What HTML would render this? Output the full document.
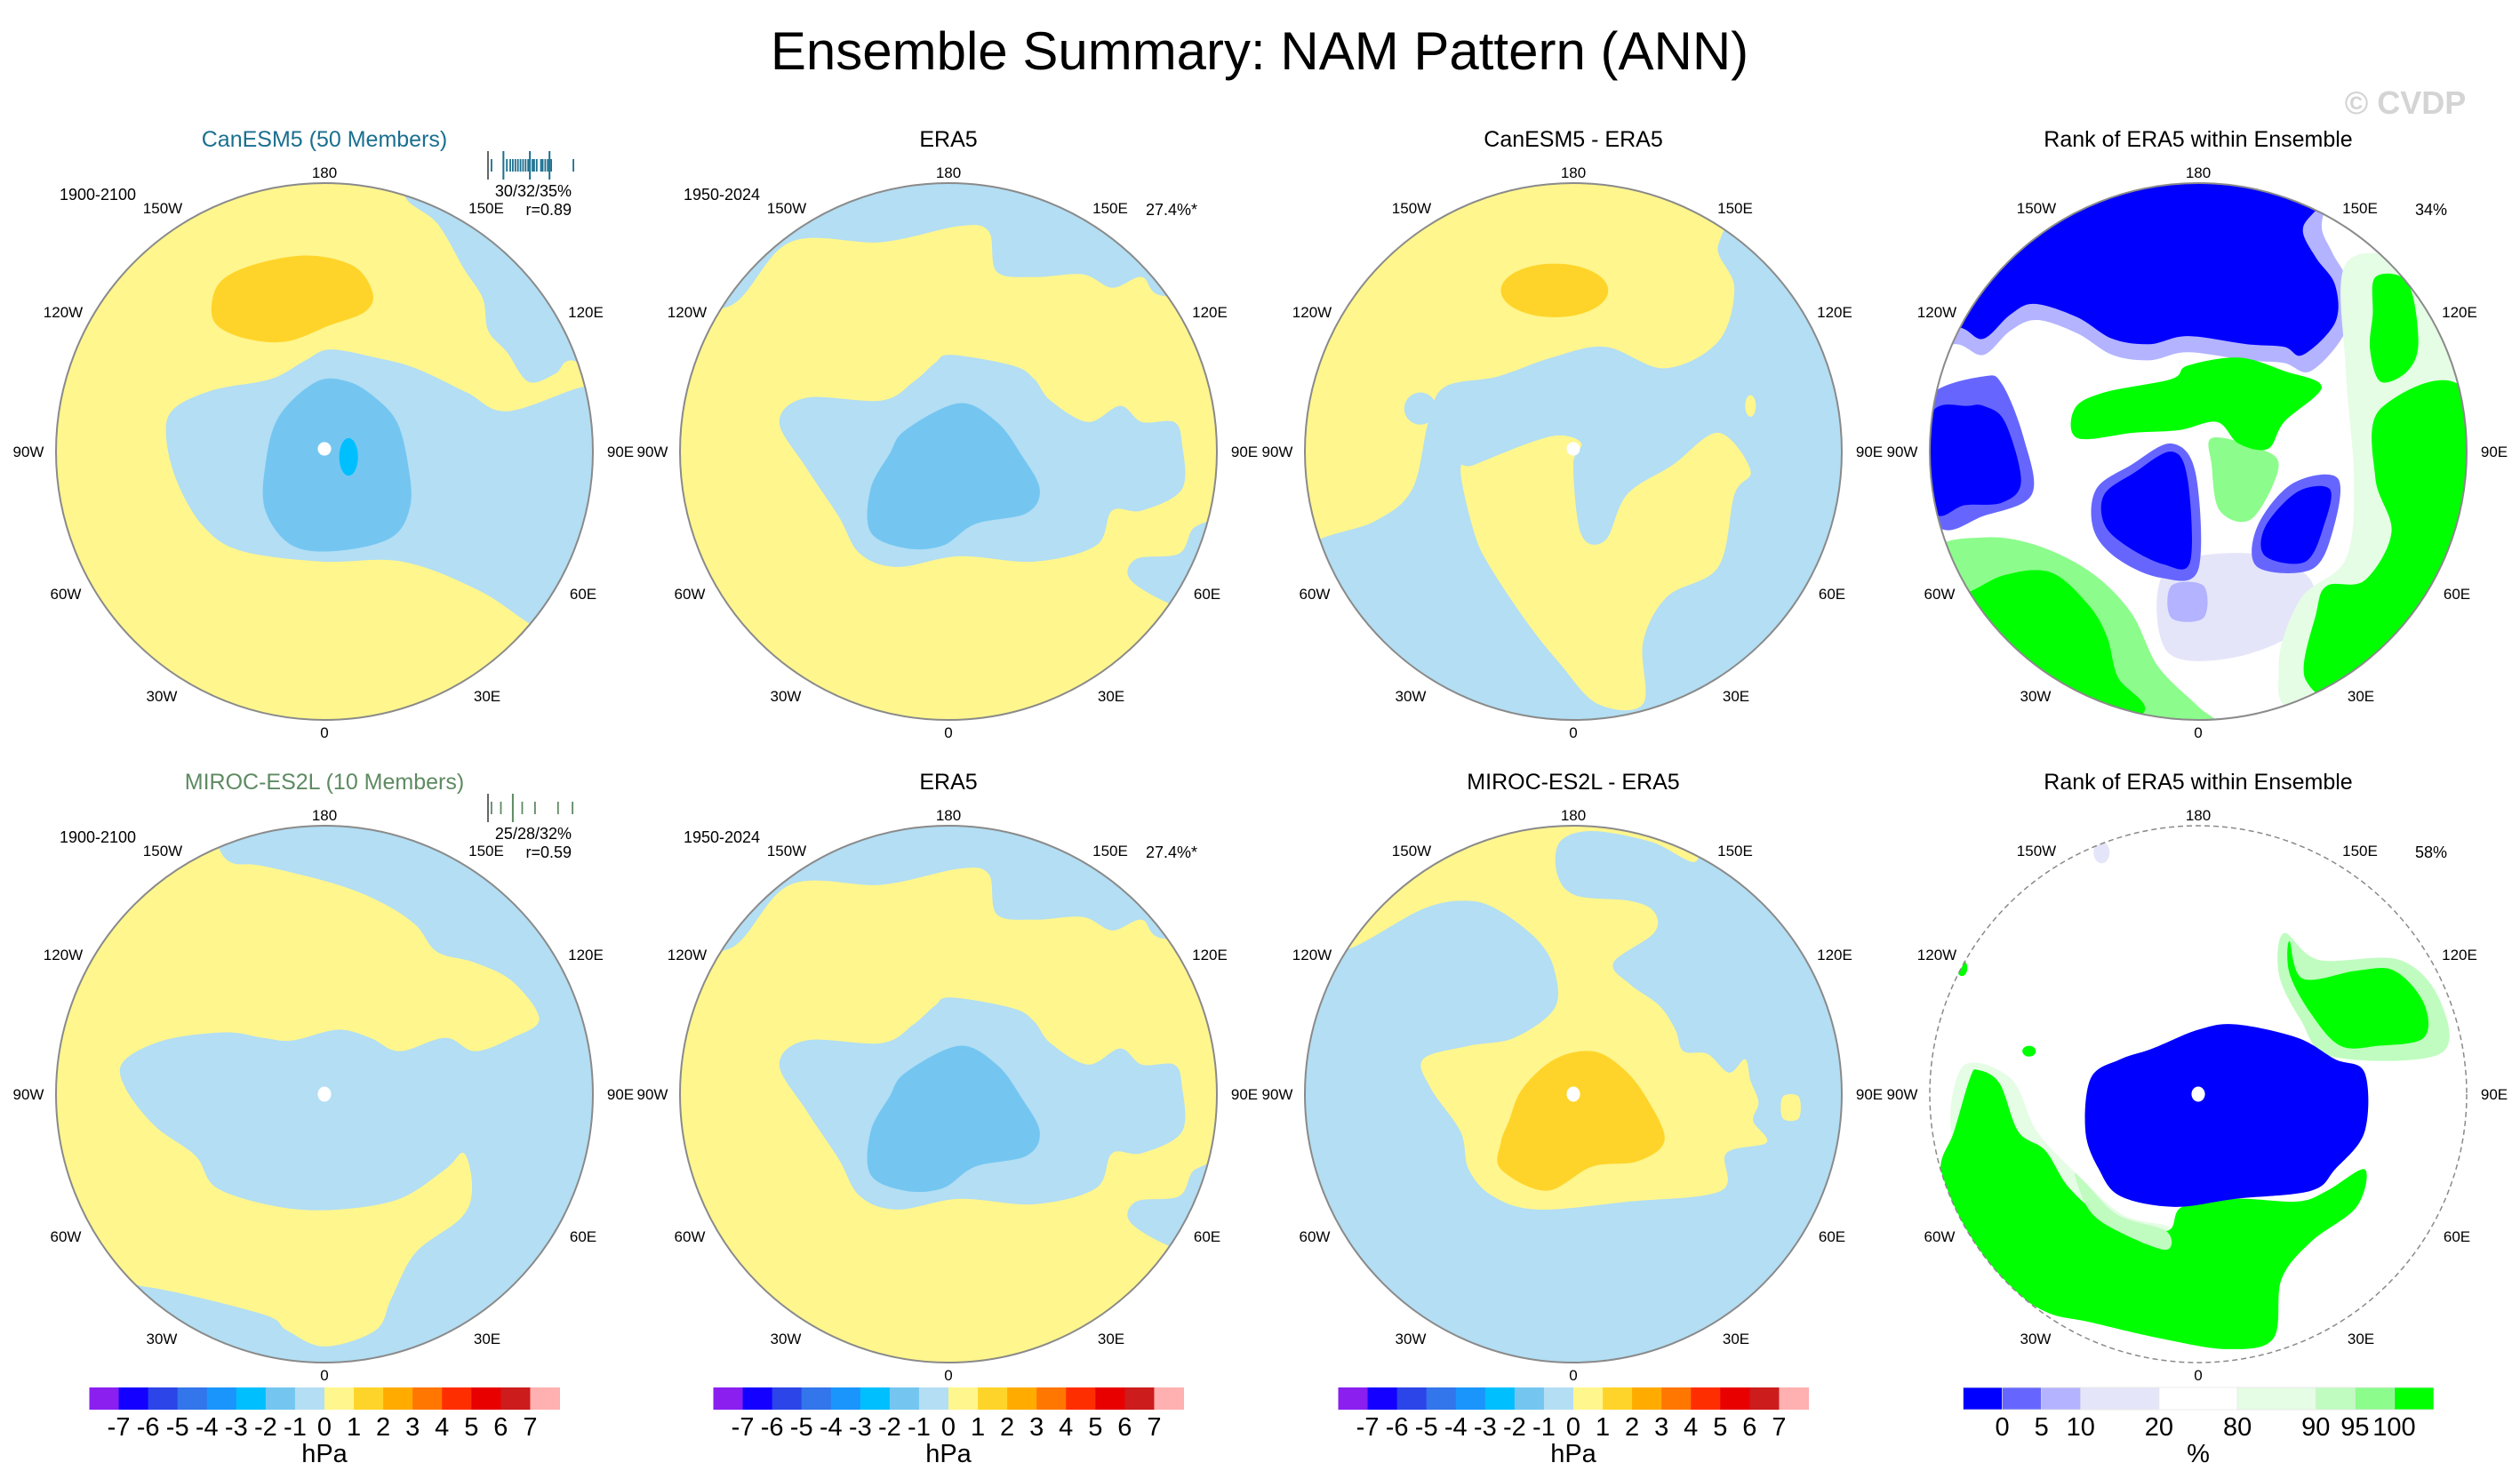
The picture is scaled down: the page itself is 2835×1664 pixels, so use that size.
<!DOCTYPE html>
<html><head><meta charset="utf-8"><title>Ensemble Summary: NAM Pattern (ANN)</title>
<style>
html,body{margin:0;padding:0;background:#fff;}
svg{display:block;font-family:"Liberation Sans",Arial,sans-serif;}
</style></head>
<body>
<svg id="fig" width="2835" height="1664" viewBox="0 0 2835 1664" xmlns="http://www.w3.org/2000/svg">
<rect x="0" y="0" width="2835" height="1664" fill="#fff"/>
<text x="1417" y="78" font-size="60" text-anchor="middle" fill="#000">Ensemble Summary: NAM Pattern (ANN)</text>
<text x="2706" y="128" font-size="36" text-anchor="middle" fill="#d4d4d4" font-weight="bold">© CVDP</text>

<text x="365" y="165" font-size="25" text-anchor="middle" fill="#1a6f8f">CanESM5 (50 Members)</text>
<text x="1067" y="165" font-size="25" text-anchor="middle" fill="#000">ERA5</text>
<text x="1770" y="165" font-size="25" text-anchor="middle" fill="#000">CanESM5 - ERA5</text>
<text x="2473" y="165" font-size="25" text-anchor="middle" fill="#000">Rank of ERA5 within Ensemble</text>
<text x="365" y="888" font-size="25" text-anchor="middle" fill="#5e8a62">MIROC-ES2L (10 Members)</text>
<text x="1067" y="888" font-size="25" text-anchor="middle" fill="#000">ERA5</text>
<text x="1770" y="888" font-size="25" text-anchor="middle" fill="#000">MIROC-ES2L - ERA5</text>
<text x="2473" y="888" font-size="25" text-anchor="middle" fill="#000">Rank of ERA5 within Ensemble</text>

<text x="110" y="225" font-size="18" text-anchor="middle">1900-2100</text>
<text x="643" y="221" font-size="18" text-anchor="end">30/32/35%</text>
<text x="643" y="242" font-size="18" text-anchor="end">r=0.89</text>
<text x="812" y="225" font-size="18" text-anchor="middle">1950-2024</text>
<text x="1347" y="242" font-size="18" text-anchor="end">27.4%*</text>
<text x="2753" y="242" font-size="18" text-anchor="end">34%</text>
<text x="110" y="948" font-size="18" text-anchor="middle">1900-2100</text>
<text x="643" y="944" font-size="18" text-anchor="end">25/28/32%</text>
<text x="643" y="965" font-size="18" text-anchor="end">r=0.59</text>
<text x="812" y="948" font-size="18" text-anchor="middle">1950-2024</text>
<text x="1347" y="965" font-size="18" text-anchor="end">27.4%*</text>
<text x="2753" y="965" font-size="18" text-anchor="end">58%</text>

<g id="panels"></g>
<g id="hists"></g>
<g id="cbars"></g>
</svg>
<script>
// ---- colorbar data ----
const hpaLevels = [-7,-6,-5,-4,-3,-2,-1,0,1,2,3,4,5,6,7];
const hpaColors = ["#8a1ff0","#1400ff","#2b45e8","#3375ea","#1a95fb","#00bfff","#74c6f1","#b3def3","#fff68e","#ffd42a","#ffab00","#ff7700","#ff2e00","#e80000","#cc1c1c","#ffb0b0"];
const rankLevels = [0,5,10,20,80,90,95,100];
const rankColors = ["#0000ff","#6666ff","#b3b3ff","#e5e5fa","#ffffff","#e5fce5","#c0fcc0","#8cfc8c","#00ff00"];
const rankUnits = [1,1,1,2,2,2,1,1,1];
// ---- member histograms (relative positions 0..1 across the strip) ----
const canMembers = [0.02,0.16,0.2,0.24,0.27,0.3,0.33,0.36,0.39,0.42,0.45,0.47,0.5,0.52,0.55,0.6,0.62,0.65,0.68,0.7,0.72,0.98];
const canTall = [0.16,0.47,0.7];
const mirMembers = [0.02,0.13,0.27,0.38,0.53,0.8,0.97];
const mirTall = [0.27];

const NS="http://www.w3.org/2000/svg";
const Y="#fff68e",LB="#b3def3",MB="#74c6f1",BB="#00bfff",OR="#ffd42a";
const B0="#0000ff",B1="#6666ff",B2="#b3b3ff",B3="#e5e5fa",G0="#00ff00",G1="#8cfc8c",G2="#c0fcc0",G3="#e5fce5";

function mk(tag,attrs,parent){const e=document.createElementNS(NS,tag);for(const k in attrs)e.setAttribute(k,attrs[k]);parent.appendChild(e);return e;}
function smooth(p){const n=p.length;let d="M"+p[0][0]+","+p[0][1];
 for(let i=0;i<n;i++){const a=p[(i-1+n)%n],b=p[i],c=p[(i+1)%n],e=p[(i+2)%n];
  const c1=[b[0]+(c[0]-a[0])/6,b[1]+(c[1]-a[1])/6],c2=[c[0]-(e[0]-b[0])/6,c[1]-(e[1]-b[1])/6];
  d+="C"+c1[0].toFixed(2)+","+c1[1].toFixed(2)+" "+c2[0].toFixed(2)+","+c2[1].toFixed(2)+" "+c[0]+","+c[1];}
 return d+"Z";}

const era5Shapes=[
 {c:LB,p:[[-82,-54],[-59,-78],[-25,-78],[4,-84],[15,-82],[18,-67],[32,-65],[50,-66],[61,-61],[72,-65],[80,-58],[110,-60],[60,-120],[-60,-120],[-110,-60]]},
 {c:LB,p:[[1,-36],[24,-32],[32,-27],[38,-19],[52,-11],[64,-17],[72,-11],[84,-11],[87,-3],[87,14],[72,22],[61,22],[55,35],[32,41],[4,39],[-19,43],[-33,38],[-41,24],[-53,6],[-63,-11],[-53,-20],[-25,-19],[-13,-26],[-5,-33]]},
 {c:LB,p:[[70,40],[86,38],[92,28],[105,28],[105,60],[86,58],[68,48]]},
 {c:MB,p:[[-16,-8],[4,-18],[18,-11],[27,1],[34,14],[29,23],[10,27],[-2,35],[-16,36],[-29,30],[-29,14],[-22,1]]}
];
const panels=[
 {name:"canesm5-map",cx:365,cy:508,base:Y,shapes:[
  {c:LB,p:[[30,-95],[42,-85],[52,-68],[59,-57],[61,-45],[68,-37],[76,-26],[86,-29],[92,-34],[110,-30],[100,-100],[30,-110]]},
  {c:LB,p:[[96,-24],[68,-15],[53,-22],[34,-31],[19,-35],[2,-38],[-7,-34],[-20,-27],[-41,-23],[-56,-16],[-59,-6],[-55,11],[-45,28],[-31,37],[-1,41],[29,41],[58,52],[82,67],[105,70],[110,-24]]},
  {c:OR,p:[[-42,-55],[-38,-64],[-25,-70],[-6,-73],[11,-69],[18,-59],[15,-52],[2,-47],[-14,-41],[-29,-42],[-40,-47]]},
  {c:MB,p:[[-17,-13],[-3,-26],[9,-26],[19,-20],[27,-11],[31,4],[32,20],[25,32],[5,37],[-12,35],[-22,22],[-22,5]]},
  {c:BB,e:[9,2,3.5,7]},
  {c:"#fff",e:[0,-1,2.5,2.5]}]},
 {name:"era5-map-row1",cx:1067,cy:508,base:Y,shapes:era5Shapes},
 {name:"canesm5-minus-era5-map",cx:1770,cy:508,base:Y,shapes:[
  {c:LB,p:[[54,-77],[60,-61],[54,-41],[34,-31],[12,-39],[-8,-35],[-28,-28],[-48,-24],[-54,-11],[-60,14],[-74,26],[-100,36],[-110,60],[-80,110],[0,120],[80,110],[120,40],[120,-60],[70,-90]]},
  {c:Y,p:[[-42,7],[-37,30],[-31,43],[-17,64],[-5,79],[9,94],[26,94],[26,71],[35,54],[54,43],[60,16],[66,7],[54,-7],[37,5],[20,16],[12,33],[3,31],[0,5],[3,-3],[-5,-6],[-17,-3],[-37,5]]},
  {c:LB,e:[-57,-16,6,6]},
  {c:Y,e:[66,-17,2,4]},
  {c:OR,e:[-7,-60,20,10]},
  {c:"#fff",e:[0,-1,2.5,2.5]}]},
 {name:"rank-map-row1",cx:2473,cy:508,base:"#fff",shapes:[
  {c:B3,p:[[-12,44],[20,38],[42,48],[38,66],[12,77],[-12,74]]},
  {c:B2,p:[[-10,50],[2,50],[2,62],[-10,62]]},
  {c:B2,p:[[-90,-40],[-80,-36],[-70,-45],[-60,-49],[-45,-44],[-32,-36],[-18,-34],[-4,-37],[18,-34],[32,-33],[42,-30],[55,-45],[56,-62],[50,-74],[46,-84],[50,-95],[60,-100],[0,-120],[-110,-60],[-105,-38]]},
  {c:B0,p:[[-88,-46],[-80,-42],[-70,-51],[-61,-55],[-45,-50],[-32,-42],[-18,-40],[-4,-43],[18,-40],[32,-39],[39,-36],[51,-48],[51,-62],[44,-72],[39,-82],[43,-89],[55,-100],[0,-120],[-110,-60],[-100,-48]]},
  {c:B1,p:[[-100,-21],[-80,-28],[-73,-25],[-65,-5],[-62,16],[-80,24],[-97,28],[-110,0]]},
  {c:B0,p:[[-98,-16],[-86,-17],[-80,-17],[-72,-11],[-66,11],[-73,19],[-87,20],[-98,23],[-105,0]]},
  {c:B1,p:[[-38,14],[-25,5],[-10,-3],[-1,8],[0,44],[-14,47],[-30,40],[-39,29]]},
  {c:B0,p:[[-35,16],[-24,8],[-10,0],[-4,10],[-3,41],[-13,42],[-27,35],[-35,27]]},
  {c:B1,p:[[22,28],[35,12],[52,10],[50,30],[42,44],[22,43]]},
  {c:B0,p:[[25,28],[37,15],[49,14],[47,27],[40,41],[25,39]]},
  {c:G1,p:[[-100,38],[-80,32],[-60,35],[-40,45],[-25,60],[-15,80],[0,95],[10,105],[-20,110],[-110,70]]},
  {c:G0,p:[[-87,53],[-72,46],[-55,45],[-41,57],[-34,69],[-30,84],[-21,98],[-60,110],[-110,60]]},
  {c:G3,p:[[55,-70],[80,-68],[105,-30],[110,60],[40,95],[30,80],[38,55],[55,40],[58,10],[55,-30]]},
  {c:G0,p:[[68,-16],[100,-22],[110,50],[60,90],[40,85],[44,60],[48,50],[62,48],[72,30],[66,10]]},
  {c:G0,p:[[66,-65],[78,-63],[82,-41],[78,-30],[68,-26],[64,-38],[65,-51]]},
  {c:G1,p:[[5,-5],[20,-2],[30,5],[20,25],[8,22],[5,5]]},
  {c:G0,p:[[-46,-16],[-35,-22],[-10,-27],[-4,-32],[15,-35],[32,-30],[46,-24],[32,-11],[26,-1],[15,-3],[7,-11],[-7,-8],[-24,-7],[-45,-5]]}]},
 {name:"miroc-map",cx:365,cy:1231,base:Y,shapes:[
  {c:LB,p:[[-39,-91],[-34,-86],[-23,-85],[5,-78],[22,-71],[34,-63],[42,-53],[56,-49],[70,-42],[80,-28],[70,-21],[56,-16],[45,-21],[28,-16],[17,-21],[5,-24],[-12,-20],[-23,-21],[-37,-23],[-60,-20],[-75,-12],[-74,-2],[-63,12],[-48,23],[-40,35],[-17,42],[5,43],[28,39],[45,28],[52,22],[55,35],[51,46],[34,59],[25,76],[19,88],[0,94],[-14,88],[-23,82],[-65,72],[-75,75],[-80,110],[0,115],[90,90],[115,0],[90,-80],[0,-110],[-40,-100]]},
  {c:"#fff",e:[0,0,2.5,2.8]}]},
 {name:"era5-map-row2",cx:1067,cy:1231,base:Y,shapes:era5Shapes},
 {name:"miroc-minus-era5-map",cx:1770,cy:1231,base:LB,shapes:[
  {c:Y,p:[[-84,-54],[-56,-69],[-39,-72],[-27,-68],[-13,-57],[-7,-46],[-7,-32],[-22,-21],[-39,-18],[-56,-13],[-53,-2],[-42,14],[-39,28],[-30,38],[-13,43],[21,40],[55,36],[57,22],[72,18],[67,10],[69,3],[66,-5],[64,-13],[58,-8],[50,-15],[41,-16],[38,-24],[32,-33],[21,-41],[15,-49],[30,-60],[30,-68],[21,-72],[1,-74],[-6,-82],[-5,-94],[7,-98],[29,-94],[46,-87],[40,-110],[-60,-100],[-100,-55]]},
  {c:Y,p:[[78,1],[84,1],[84,9],[78,9]]},
  {c:OR,p:[[-27,18],[-27,28],[-10,36],[7,27],[24,25],[34,17],[27,1],[18,-10],[7,-16],[-7,-13],[-19,-2],[-24,10]]},
  {c:"#fff",e:[0,0,2.5,2.8]}]},
 {name:"rank-map-row2",cx:2473,cy:1231,base:"#fff",dashed:true,shapes:[
  {c:B3,e:[-36,-90,3,4]},
  {c:G2,p:[[32,-60],[45,-50],[75,-50],[90,-35],[90,-15],[50,-14],[38,-28],[30,-45]]},
  {c:G0,p:[[34,-57],[39,-43],[59,-46],[73,-46],[84,-34],[84,-21],[67,-18],[53,-18],[42,-30],[34,-45]]},
  {c:G3,p:[[-88,-10],[-70,-6],[-60,14],[-45,30],[-28,45],[-10,50],[-10,60],[-40,55],[-60,40],[-90,20]]},
  {c:G0,p:[[-82,-9],[-74,-4],[-67,14],[-57,21],[-48,35],[-34,46],[-12,51],[-6,42],[14,39],[37,40],[48,36],[62,28],[59,42],[42,55],[31,69],[28,91],[11,95],[-14,91],[-40,85],[-57,81],[-74,69],[-91,49],[-96,28],[-91,14],[-85,-6]]},
  {c:G2,p:[[-46,30],[-40,44],[-28,52],[-12,58],[-12,51],[-30,45],[-42,33]]},
  {c:B0,p:[[-40,-6],[-29,-13],[-17,-17],[0,-24],[14,-26],[37,-21],[51,-13],[62,-8],[62,14],[51,28],[42,36],[14,39],[-9,42],[-29,38],[-37,28],[-42,14]]},
  {c:G0,e:[-88,-47,2,3]},
  {c:G0,e:[-63,-16,2.5,2]},
  {c:"#fff",e:[0,0,2.5,2.8]}]}
];

const lonLabels=["180","150W","150E","120W","120E","90W","90E","60W","60E","30W","30E","0"];
const lonDx=[0,-182,182,-294,294,-333,333,-291,291,-183,183,0];
const lonDy=[-308,-268,-268,-151,-151,6,6,166,166,281,281,322];

const R=302;
const root=document.getElementById("panels");
let pid=0;
for(const P of panels){
  pid++;
  const g=mk("g",{},root);
  
  
  const cp=mk("clipPath",{id:"clip"+pid},g);
  mk("circle",{cx:0,cy:0,r:100},cp);
  const inner=mk("g",{transform:"translate("+P.cx+","+P.cy+") scale("+(R/100)+")","clip-path":"url(#clip"+pid+")"},g);
  const base=mk("circle",{cx:0,cy:0,r:100,fill:P.base},inner);
  
  
  for(const s of P.shapes){
    let el;
    if(s.e){el=mk("ellipse",{cx:s.e[0],cy:s.e[1],rx:s.e[2],ry:s.e[3],fill:s.c},inner);}
    else{el=mk("path",{d:smooth(s.p),fill:s.c},inner);}
    
    
  }
  const border=mk("circle",{cx:P.cx,cy:P.cy,r:R,fill:"none",stroke:"#8a8a8a","stroke-width":P.dashed?1.5:2,"stroke-dasharray":P.dashed?"6,4":"none"},g);
  
  
  for(let i=0;i<lonLabels.length;i++){
    const t=mk("text",{x:P.cx+lonDx[i],y:P.cy+lonDy[i],"font-size":17,"text-anchor":"middle",fill:"#000"},g);
    t.textContent=lonLabels[i];
    
    
  }
}

// histograms
const hg=document.getElementById("hists");
function hist(x0,y0,w,h,vals,tall,col,nm){
  const g=mk("g",{},hg);
  
  
  const ax=mk("line",{x1:x0,y1:y0,x2:x0,y2:y0+h,stroke:"#333","stroke-width":1.5},g);
  
  
  const mid=y0+h/2;
  for(const v of vals){
    const isT=tall.indexOf(v)>=0;
    const hh=isT?h*0.5:h*0.22;
    const l=mk("line",{x1:x0+2+v*(w-2),y1:mid-hh,x2:x0+2+v*(w-2),y2:mid+hh,stroke:col,"stroke-width":isT?2:1.8},g);
    
    
  }
}
hist(549,170,98,32,canMembers,canTall,"#1a6f8f","member-histogram-canesm5");
hist(549,893,98,32,mirMembers,mirTall,"#5e8a62","member-histogram-miroc");

// colorbars
const cb=document.getElementById("cbars");
const cy0=1561,ch=25;
[365,1067,1770].forEach((cx,k)=>{
  const g=mk("g",{},cb);
  
  
  const W=529,x0=cx-W/2,bw=W/hpaColors.length;
  hpaColors.forEach((c,i)=>{
    const r=mk("rect",{x:x0+i*bw,y:cy0,width:bw+0.5,height:ch,fill:c},g);
    
    
  });
  hpaLevels.forEach((v,i)=>{
    const t=mk("text",{x:x0+(i+1)*bw,y:1615,"font-size":29,"text-anchor":"middle"},g);
    t.textContent=String(v);
    
    
  });
  const u=mk("text",{x:cx,y:1645,"font-size":29,"text-anchor":"middle"},g);
  u.textContent="hPa";
  
  
});
{
  const g=mk("g",{},cb);
  
  
  const W=529,x0=2473-W/2,tot=rankUnits.reduce((a,b)=>a+b,0),uw=W/tot;
  let acc=0;const bounds=[];
  rankColors.forEach((c,i)=>{
    const r=mk("rect",{x:x0+acc*uw,y:cy0,width:rankUnits[i]*uw+0.5,height:ch,fill:c,stroke:"#e6e6e6","stroke-width":0.8},g);
    
    
    acc+=rankUnits[i];bounds.push(acc);
  });
  rankLevels.forEach((v,i)=>{
    const t=mk("text",{x:x0+bounds[i]*uw,y:1615,"font-size":29,"text-anchor":"middle"},g);
    t.textContent=String(v);
    
    
  });
  const u=mk("text",{x:2473,y:1645,"font-size":29,"text-anchor":"middle"},g);
  u.textContent="%";
  
  
}
</script>
</body></html>
